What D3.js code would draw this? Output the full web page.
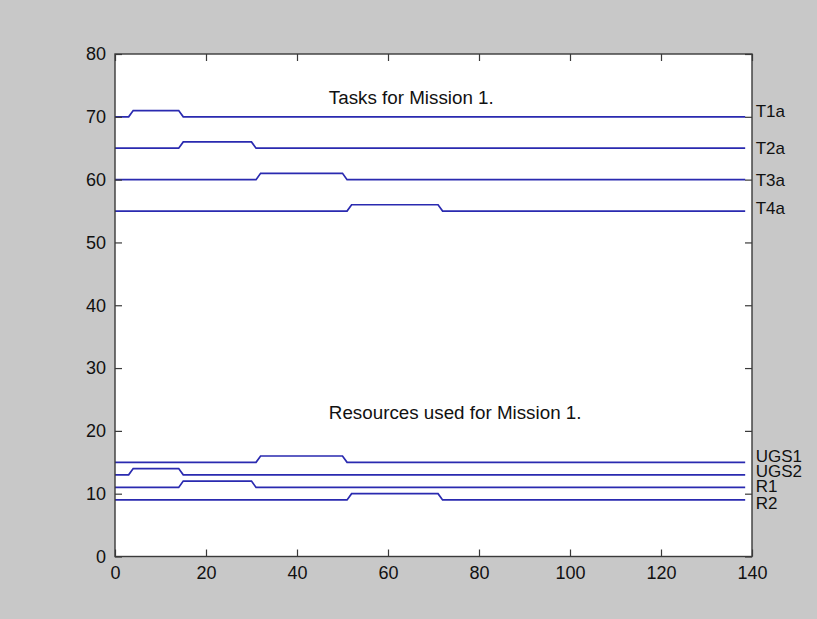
<!DOCTYPE html>
<html>
<head>
<meta charset="utf-8">
<script src="https://cdn.jsdelivr.net/npm/d3@7/dist/d3.min.js"></script>
<style>
  html, body { margin: 0; padding: 0; background: #c8c8c8; }
  svg { display: block; }
  text { font-family: "Liberation Sans", Arial, sans-serif; }
</style>
</head>
<body>
<svg id="chart" width="817" height="619"></svg>
<script>
// ---- data ----
const xTicks = [0, 20, 40, 60, 80, 100, 120, 140];
const yTicks = [0, 10, 20, 30, 40, 50, 60, 70, 80];

const seriesNames = ["T1a", "T2a", "T3a", "T4a", "UGS1", "UGS2", "R1", "R2"];
const T1a  = [[0,70],[3,70],[4,71],[14,71],[15,70],[138.5,70]];
const T2a  = [[0,65],[14,65],[15,66],[30,66],[31,65],[138.5,65]];
const T3a  = [[0,60],[31,60],[32,61],[50,61],[51,60],[138.5,60]];
const T4a  = [[0,55],[51,55],[52,56],[71,56],[72,55],[138.5,55]];
const UGS1 = [[0,15],[31,15],[32,16],[50,16],[51,15],[138.5,15]];
const UGS2 = [[0,13],[3,13],[4,14],[14,14],[15,13],[138.5,13]];
const R1   = [[0,11],[14,11],[15,12],[30,12],[31,11],[138.5,11]];
const R2   = [[0,9],[51,9],[52,10],[71,10],[72,9],[138.5,9]];
const seriesData = [T1a, T2a, T3a, T4a, UGS1, UGS2, R1, R2];

// label anchor positions (data coords)
const labelX = 140.8;
const labelY = [71, 65, 60, 55.5, 16, 13.6, 11.2, 8.6];

const annotations = [
  { text: "Tasks for Mission 1.", x: 47, y: 72 },
  { text: "Resources used for Mission 1.", x: 47, y: 21.9 }
];

// ---- layout ----
const W = 817, H = 619;
const mLeft = 115, mRight = 752, mTop = 54, mBottom = 556.5;
const svg = d3.select("#chart");

svg.append("rect").attr("width", W).attr("height", H).attr("fill", "#c8c8c8");

const x = d3.scaleLinear().domain([0, 140]).range([mLeft, mRight]);
const y = d3.scaleLinear().domain([0, 80]).range([mBottom, mTop]);

svg.append("rect")
  .attr("x", mLeft).attr("y", mTop)
  .attr("width", mRight - mLeft).attr("height", mBottom - mTop)
  .attr("fill", "#ffffff");

// series lines
const line = d3.line().x(d => x(d[0])).y(d => y(d[1]));
svg.append("g").selectAll("path")
  .data(seriesData)
  .join("path")
  .attr("d", line)
  .attr("fill", "none")
  .attr("stroke", "#2a2ab0")
  .attr("stroke-width", 1.7);

// axes
const axisColor = "#3a3a3a";
function styleAxis(g) {
  g.select(".domain").remove();
  g.selectAll(".tick line").attr("stroke", axisColor).attr("stroke-width", 1.2);
  g.selectAll(".tick text")
    .attr("fill", "#111")
    .style("font-size", "18px")
    .style("font-family", '"Liberation Sans", Arial, sans-serif');
}

svg.append("g").attr("transform", `translate(0,${mBottom})`)
  .call(d3.axisBottom(x).tickValues(xTicks).tickSize(-7).tickPadding(10))
  .call(styleAxis);
svg.append("g").attr("transform", `translate(0,${mTop})`)
  .call(d3.axisTop(x).tickValues(xTicks).tickSize(-7).tickFormat(""))
  .call(styleAxis);
svg.append("g").attr("transform", `translate(${mLeft},0)`)
  .call(d3.axisLeft(y).tickValues(yTicks).tickSize(-7).tickPadding(9))
  .call(styleAxis);
svg.append("g").attr("transform", `translate(${mRight},0)`)
  .call(d3.axisRight(y).tickValues(yTicks).tickSize(-7).tickFormat(""))
  .call(styleAxis);

// box
svg.append("rect")
  .attr("x", mLeft).attr("y", mTop)
  .attr("width", mRight - mLeft).attr("height", mBottom - mTop)
  .attr("fill", "none").attr("stroke", axisColor).attr("stroke-width", 1.4);

// series labels
svg.append("g").selectAll("text")
  .data(seriesNames)
  .join("text")
  .attr("x", x(labelX))
  .attr("y", (d, i) => y(labelY[i]))
  .attr("dy", "0.36em")
  .attr("fill", "#111")
  .style("font-size", "17px")
  .text(d => d);

// annotations
svg.append("g").selectAll("text")
  .data(annotations)
  .join("text")
  .attr("x", d => x(d.x))
  .attr("y", d => y(d.y))
  .attr("fill", "#111")
  .style("font-size", "18.8px")
  .text(d => d.text);
</script>
</body>
</html>
